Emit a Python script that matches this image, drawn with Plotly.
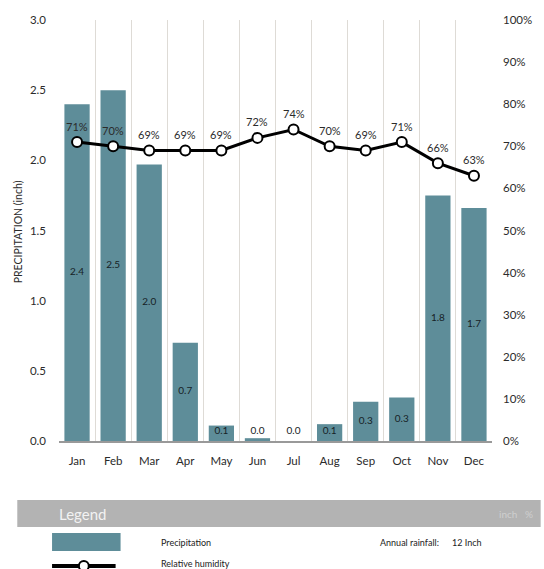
import plotly.graph_objects as go

months = ["Jan", "Feb", "Mar", "Apr", "May", "Jun", "Jul", "Aug", "Sep", "Oct", "Nov", "Dec"]
precip = [2.4, 2.5, 1.97, 0.7, 0.11, 0.02, 0.0, 0.12, 0.28, 0.31, 1.75, 1.66]
humidity = [71, 70, 69, 69, 69, 72, 74, 70, 69, 71, 66, 63]
left_ticks = [0, 0.5, 1.0, 1.5, 2.0, 2.5, 3.0]
right_ticks = [0, 10, 20, 30, 40, 50, 60, 70, 80, 90, 100]

FONT = "Lato"
TXT = "#2b2b2b"
BAR = "#5e8d99"

fig = go.Figure()

fig.add_trace(go.Bar(
    x=months, y=precip, width=0.7, marker_color=BAR, marker_line_width=0,
    hoverinfo="skip", showlegend=False,
))

# bar value labels (middle of bar, minimum just above baseline)
label_y = [max(v / 2, 0.065) for v in precip]
fig.add_trace(go.Scatter(
    x=months, y=label_y, mode="text",
    text=[f"{v:.1f}" for v in precip],
    textfont=dict(family=FONT, size=10, color="#162226"),
    hoverinfo="skip", showlegend=False,
))

fig.add_trace(go.Scatter(
    x=months, y=humidity, yaxis="y2", mode="lines+markers",
    line=dict(color="black", width=3),
    marker=dict(size=10, color="white", line=dict(color="black", width=2)),
    hoverinfo="skip", showlegend=False,
))

W, H = 544, 569
ml, mr, mt, mb = 59, 49, 20, 128

fig.update_layout(
    width=W, height=H,
    margin=dict(l=ml, r=mr, t=mt, b=mb),
    paper_bgcolor="white", plot_bgcolor="white",
    font=dict(family=FONT, size=11, color=TXT),
    bargap=0.3,
    xaxis=dict(
        type="category", tickson="boundaries", showgrid=True,
        gridcolor="#dedbd6", gridwidth=1, ticks="", showline=True,
        linecolor="#999999", linewidth=1.5,
        tickfont=dict(family=FONT, size=11.5, color=TXT), ticklabelstandoff=8,
        range=[-0.5, 11.5],
    ),
    yaxis=dict(
        range=[0, 3.0], tickvals=left_ticks,
        ticktext=[f"{t:.1f}" for t in left_ticks],
        showgrid=False, zeroline=False, ticks="",
        tickfont=dict(family=FONT, size=11.5, color=TXT), ticklabelstandoff=12,
    ),
    yaxis2=dict(
        range=[0, 100], overlaying="y", side="right", tickvals=right_ticks,
        ticktext=[f"{t}%" for t in right_ticks],
        showgrid=False, zeroline=False, ticks="",
        tickfont=dict(family=FONT, size=11.5, color=TXT), ticklabelstandoff=10,
    ),
)

pw = W - ml - mr
ph = H - mt - mb

def px(x):
    return (x - ml) / pw

def py(y):
    return (H - mb - y) / ph

annotations = [
    dict(text="PRECIPITATION (inch)", x=px(18), y=py(232), xref="paper", yref="paper",
         textangle=-90, showarrow=False, font=dict(family=FONT, size=10.5, color=TXT),
         xanchor="center", yanchor="middle"),
    dict(text="Legend", x=px(57), y=py(514), xref="paper", yref="paper", showarrow=False,
         font=dict(family=FONT, size=15, color="#f2f2f2"), xanchor="left", yanchor="middle"),
    dict(text="inch   %", x=px(538), y=py(514), xref="paper", yref="paper", showarrow=False,
         font=dict(family=FONT, size=10, color="#cfcfcf"), xanchor="right", yanchor="middle"),
    dict(text="Precipitation", x=px(160), y=py(542), xref="paper", yref="paper", showarrow=False,
         font=dict(family=FONT, size=9, color="#222222"), xanchor="left", yanchor="middle"),
    dict(text="Relative humidity", x=px(160), y=py(564), xref="paper", yref="paper", showarrow=False,
         font=dict(family=FONT, size=9, color="#222222"), xanchor="left", yanchor="middle"),
    dict(text="Annual rainfall:", x=px(380), y=py(542), xref="paper", yref="paper", showarrow=False,
         font=dict(family=FONT, size=9, color="#222222"), xanchor="left", yanchor="middle"),
    dict(text="12 Inch", x=px(453), y=py(542), xref="paper", yref="paper", showarrow=False,
         font=dict(family=FONT, size=9, color="#222222"), xanchor="left", yanchor="middle"),
]

for m, h in zip(months, humidity):
    annotations.append(dict(
        text=f"{h}%", x=m, y=h, xref="x", yref="y2", showarrow=False,
        yshift=16, font=dict(family=FONT, size=11, color=TXT),
        xanchor="center", yanchor="middle",
    ))

shapes = [
    dict(type="rect", xref="paper", yref="paper", x0=px(17), x1=px(544), y0=py(527), y1=py(500),
         fillcolor="#b3b3b3", line_width=0, layer="below"),
    dict(type="rect", xref="paper", yref="paper", x0=px(52), x1=px(121), y0=py(551), y1=py(533),
         fillcolor=BAR, line_width=0),
    dict(type="line", xref="paper", yref="paper", x0=px(52), x1=px(116), y0=py(566), y1=py(566),
         line=dict(color="black", width=4)),
    dict(type="circle", xref="paper", yref="paper", x0=px(79), x1=px(89), y0=py(571), y1=py(561),
         fillcolor="white", line=dict(color="black", width=2)),
]

fig.update_layout(annotations=annotations, shapes=shapes)

fig.write_html("out.html")
